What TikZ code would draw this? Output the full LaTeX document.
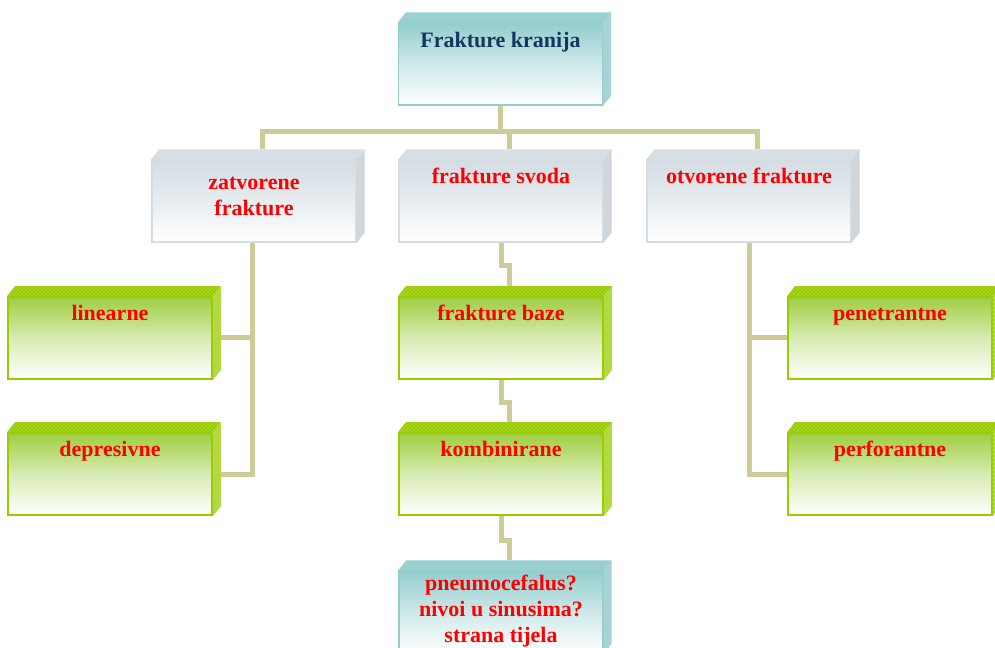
\documentclass[tikz,border=0pt]{standalone}
\usepackage{fontspec}
\setmainfont{Liberation Serif}
\usepackage{tikz}
\usetikzlibrary{shapes,positioning,patterns}
\usepackage{xcolor}
\definecolor{kbteal}{RGB}{148,205,205}
\definecolor{kbtealdk}{RGB}{160,208,208}
\definecolor{kbgrey}{RGB}{212,221,227}
\definecolor{kbgreydk}{RGB}{204,212,217}
\definecolor{kbgreen}{RGB}{153,204,0}
\definecolor{kbgreenlt}{RGB}{158,206,62}
\definecolor{kblink}{RGB}{204,204,153}
\definecolor{kbnavy}{RGB}{20,55,95}
\pgfdeclarelayer{background}
\pgfsetlayers{background,main}
\tikzstyle{slab} = [rectangle, minimum width=153pt, minimum height=61.5pt, inner sep=0pt, line width=1pt]
\tikzstyle{tealslab} = [slab, draw=kbteal, top color=kbteal, bottom color=white, middle color=kbteal!45]
\tikzstyle{greyslab} = [slab, draw=kbgrey, top color=kbgrey, bottom color=white, middle color=kbgrey!55]
\tikzstyle{greenslab} = [slab, draw=kbgreen, line width=1.4pt, top color=kbgreenlt, bottom color=white, middle color=kbgreenlt!40]
\tikzstyle{face} = [postaction={pattern=crosshatch dots, pattern color=white, fill opacity=0.6}]
\tikzstyle{lbl} = [inner sep=0pt, align=center, text=red, font=\fontsize{16.5}{19.5}\selectfont\bfseries]
\tikzstyle{link} = [line width=3.75pt, color=kblink]

% top and side faces of a box, plus the point where a link comes in from above
\newcommand{\slabfaces}[3]{%
  \fill[#2, face] (#1.north west) -- ++(8,-10) -- ([shift={(8,-10)}]#1.north east) -- (#1.north east) -- cycle;
  \fill[#3, face] (#1.north east) -- ++(8,-10) -- ([shift={(8,-10)}]#1.south east) -- (#1.south east) -- cycle;
  \coordinate (#1-b) at ([shift={(8,-10)}]#1.north);
}

\begin{document}
\begin{tikzpicture}[x=0.75pt, y=-0.75pt]
\useasboundingbox (0,0) rectangle (995,648);
\clip (0,0) rectangle (995,648);

% Root
\node[tealslab] (frak) at (500.5,64) {};
\slabfaces{frak}{kbteal}{kbtealdk}
\node[lbl, text=kbnavy, anchor=base] (frak-t) at ([yshift=-19pt]frak.north) {Frakture kranija};

% Second row
\node[greyslab] (zat) at (254,201) {};
\node[greyslab] (svod) at (501,201) {};
\node[greyslab] (otv) at (749,201) {};
\slabfaces{zat}{kbgrey}{kbgreydk}
\slabfaces{svod}{kbgrey}{kbgreydk}
\slabfaces{otv}{kbgrey}{kbgreydk}
\node[lbl, below=13.5pt of zat.north] (zat-t) {zatvorene\\frakture};
\node[lbl, anchor=base] (svod-t) at ([yshift=-18.5pt]svod.north) {frakture svoda};
\node[lbl, anchor=base] (otv-t) at ([yshift=-18.5pt]otv.north) {otvorene frakture};

% Green rows
\node[greenslab] (lin) at (110,338) {};
\node[greenslab] (dep) at (110,474) {};
\node[greenslab] (baze) at (501,338) {};
\node[greenslab] (komb) at (501,474) {};
\node[greenslab] (pen) at (890,338) {};
\node[greenslab] (perf) at (890,474) {};
\slabfaces{lin}{kbgreen}{kbgreen!80}
\slabfaces{dep}{kbgreen}{kbgreen!80}
\slabfaces{baze}{kbgreen}{kbgreen!80}
\slabfaces{komb}{kbgreen}{kbgreen!80}
\slabfaces{pen}{kbgreen}{kbgreen!80}
\slabfaces{perf}{kbgreen}{kbgreen!80}
\node[lbl, anchor=base] (lin-t) at ([yshift=-18pt]lin.north) {linearne};
\node[lbl, anchor=base] (dep-t) at ([yshift=-18pt]dep.north) {depresivne};
\node[lbl, anchor=base] (baze-t) at ([yshift=-18pt]baze.north) {frakture baze};
\node[lbl, anchor=base] (komb-t) at ([yshift=-18pt]komb.north) {kombinirane};
\node[lbl, anchor=base] (pen-t) at ([yshift=-18pt]pen.north) {penetrantne};
\node[lbl, anchor=base] (perf-t) at ([yshift=-18pt]perf.north) {perforantne};

% Bottom
\node[tealslab] (pneu) at (501,612) {};
\slabfaces{pneu}{kbteal}{kbtealdk}
\node[lbl, below=3pt of pneu.north] (pneu-t) {pneumocefalus?\\nivoi u sinusima?\\strana tijela};

% Links behind the boxes
\coordinate (zatdrop) at ([xshift=-1.5pt]zat.south);
\begin{pgfonlayer}{background}
\draw[link] (frak.south) -- ++(0,26) coordinate (hub);
\draw[link] (zat-b) |- (hub) -| (otv-b);
\draw[link] (svod-b) -- (svod-b |- hub);
\draw[link] (svod.south) -- ++(0,23) -| (baze-b);
\draw[link] (baze.south) -- ++(0,23) -| (komb-b);
\draw[link] (komb.south) -- ++(0,25) -| (pneu-b);
\draw[link] (zatdrop) |- (dep.east);
\draw[link] (lin.east) -- (lin.east -| zatdrop);
\draw[link] (otv.south) |- (perf.west);
\draw[link] (pen.west) -- (pen.west -| otv.south);
\end{pgfonlayer}
\end{tikzpicture}
\end{document}
